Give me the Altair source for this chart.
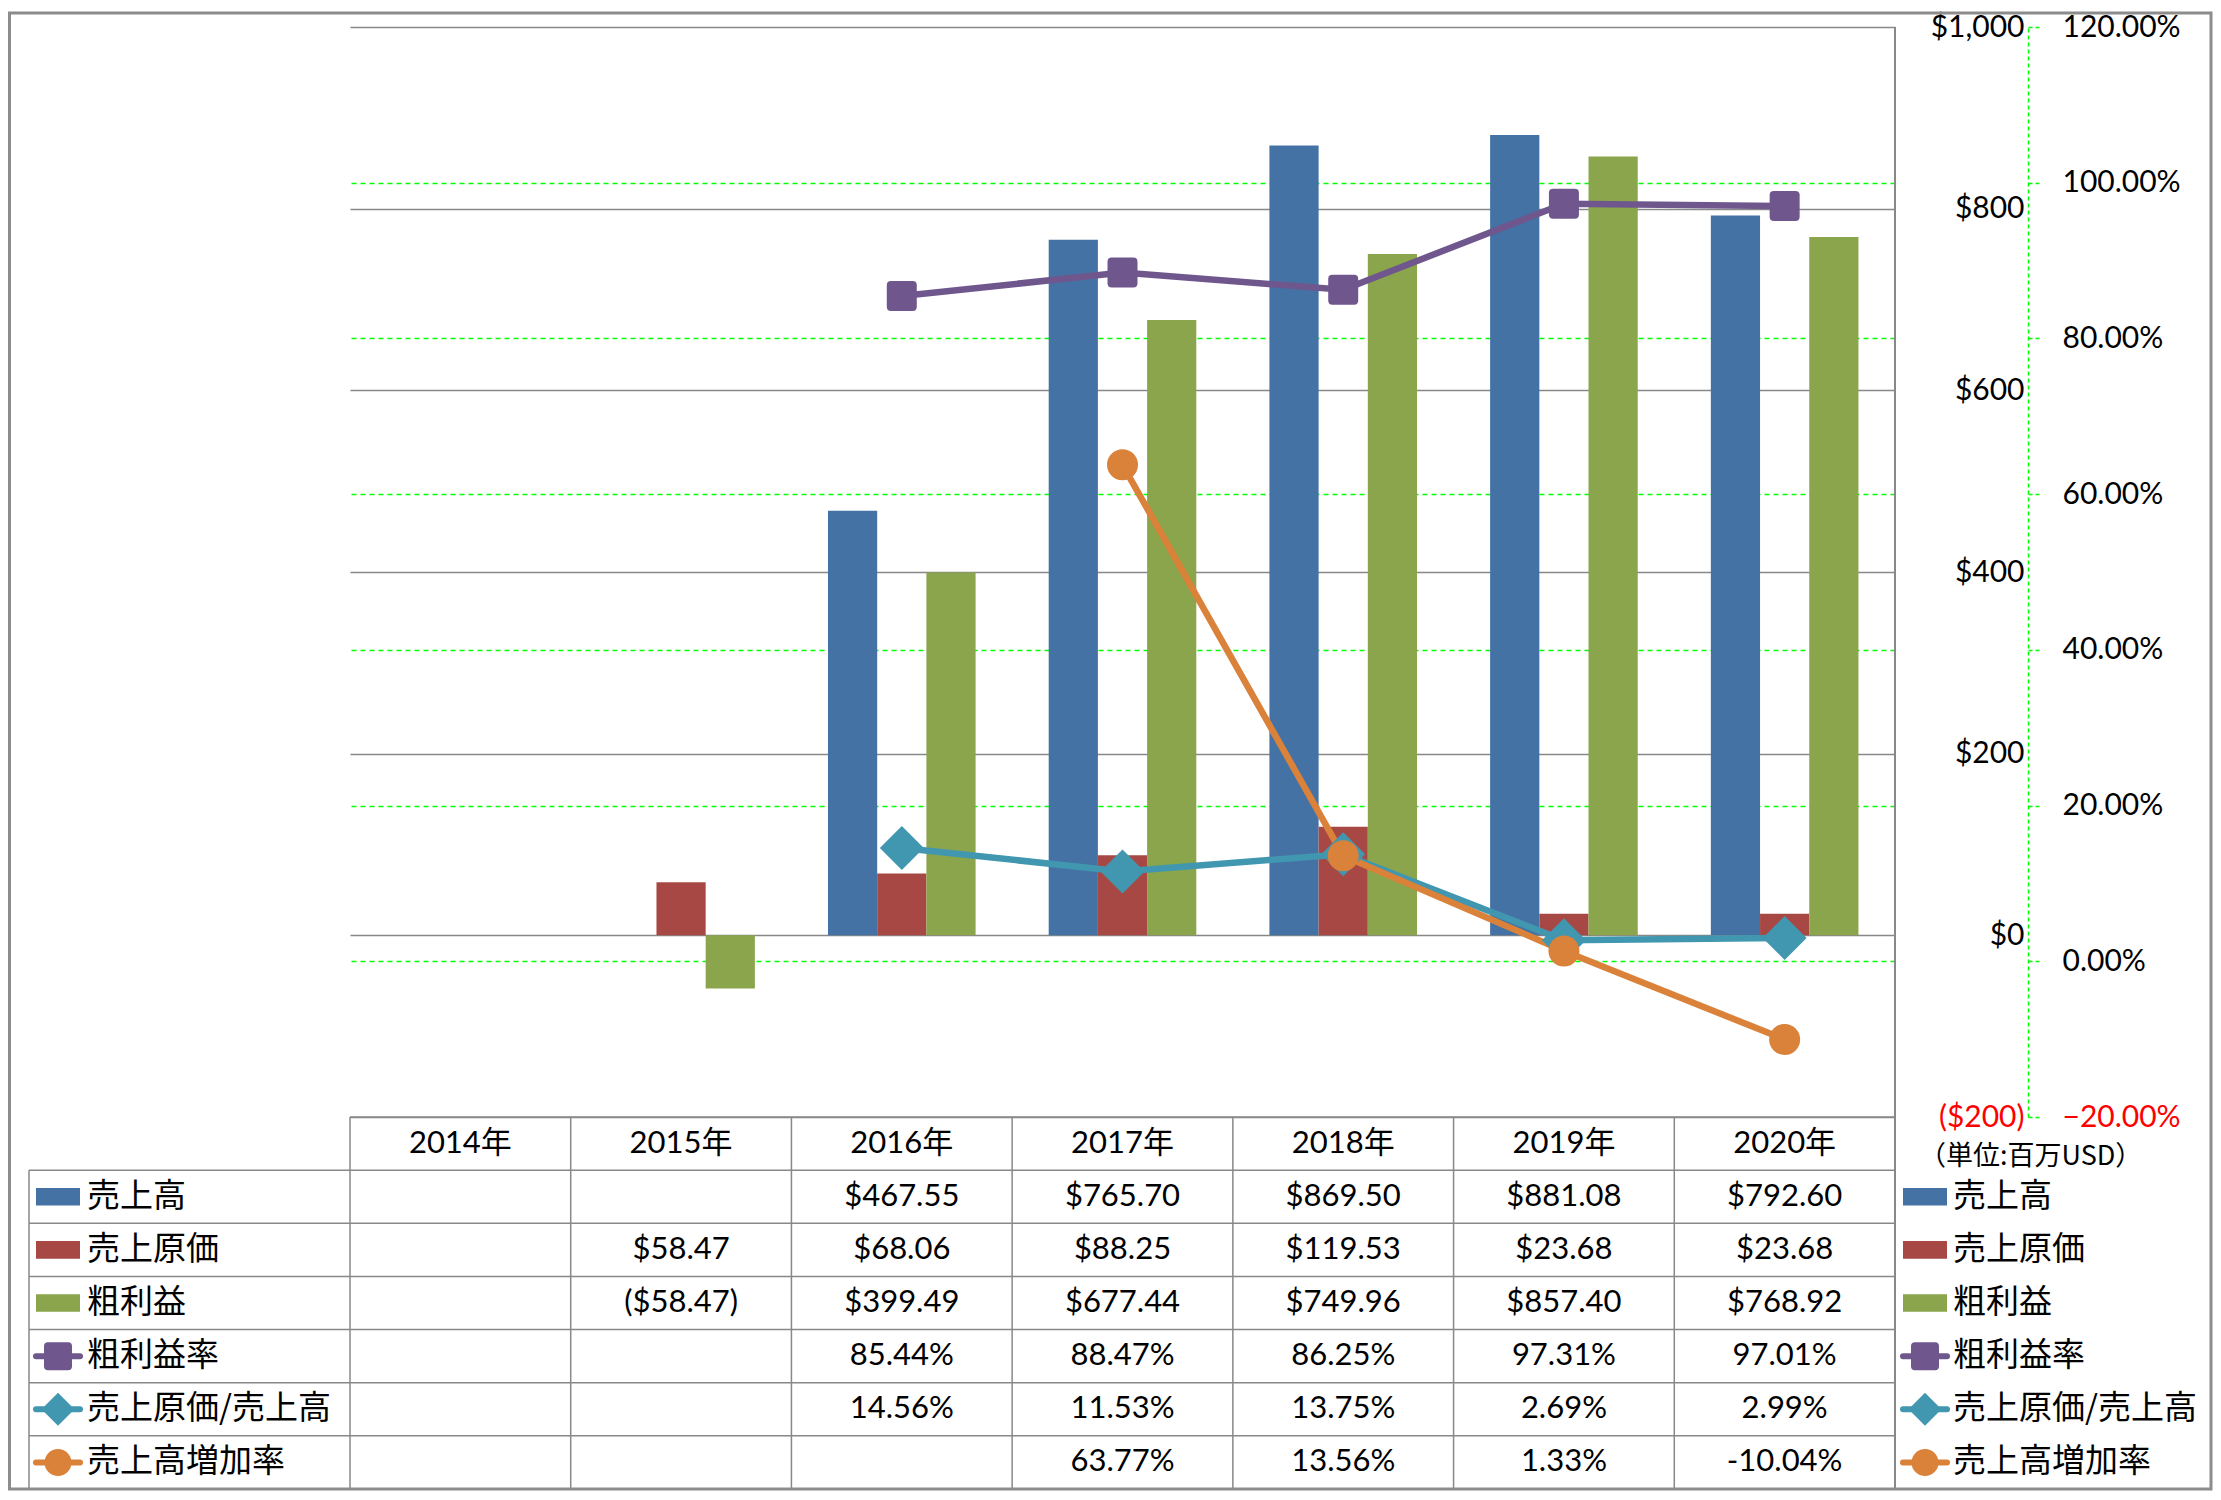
import altair as alt
import pandas as pd

# ---------------- data ----------------
years = ["2014年", "2015年", "2016年", "2017年", "2018年", "2019年", "2020年"]
sales = [None, None, 467.55, 765.70, 869.50, 881.08, 792.60]
cogs = [None, 58.47, 68.06, 88.25, 119.53, 23.68, 23.68]
gross = [None, -58.47, 399.49, 677.44, 749.96, 857.40, 768.92]
gpm = [None, None, 85.44, 88.47, 86.25, 97.31, 97.01]
cogs_ratio = [None, None, 14.56, 11.53, 13.75, 2.69, 2.99]
growth = [None, None, None, 63.77, 13.56, 1.33, -10.04]

bar_names = ["売上高", "売上原価", "粗利益"]
line_names = ["粗利益率", "売上原価/売上高", "売上高増加率"]
row_names = bar_names + line_names
money_ticks = [-200, 0, 200, 400, 600, 800, 1000]
pct_ticks = [-20, 0, 20, 40, 60, 80, 100, 120]
unit_label = "（単位:百万USD）"

# ---------------- styles ----------------
bar_colors = ["#4472A4", "#A84845", "#8AA54C"]
line_colors = {"粗利益率": "#6F578E", "売上原価/売上高": "#4197B0", "売上高増加率": "#DA813A"}
GRID = "#888888"
LIME = "#00FF00"
NUM_FONT = "Lato, 'Noto Sans CJK JP', sans-serif"
CJK_FONT = "'Noto Sans CJK JP', sans-serif"
SQ = "M-0.72,-1L0.72,-1Q1,-1,1,-0.72L1,0.72Q1,1,0.72,1L-0.72,1Q-1,1,-1,0.72L-1,-0.72Q-1,-1,-0.72,-1Z"
SWATCH = "M-1,-0.4L1,-0.4L1,0.4L-1,0.4Z"
line_shapes = {"粗利益率": (SQ, 900, 784), "売上原価/売上高": ("diamond", 1936, 1089),
               "売上高増加率": ("circle", 961, 729)}

W, H, HT = 1545, 1090, 372
LEFT_COL = 321

# ---------------- frames ----------------
bar_rows = []
for name, vals in zip(bar_names, [sales, cogs, gross]):
    for y, v in zip(years, vals):
        if v is not None:
            bar_rows.append({"year": y, "series": name, "value": v})
bar_df = pd.DataFrame(bar_rows)

pct_series = {"粗利益率": gpm, "売上原価/売上高": cogs_ratio, "売上高増加率": growth}

xscale = alt.Scale(domain=years, paddingInner=0, paddingOuter=0)

red_neg = {"condition": {"test": "datum.value < 0", "value": "#FF0000"}, "value": "#000000"}

money_axis = alt.Axis(
    orient="right", values=money_ticks, domain=False, ticks=False, tickSize=0,
    labelAlign="right", labelPadding=129, labelFont=NUM_FONT, labelFontSize=30,
    labelExpr="datum.value < 0 ? '($' + format(-datum.value, ',') + ')' : '$' + format(datum.value, ',')",
    labelColor=red_neg,
    grid=True, gridColor=GRID, gridWidth=1.5, title=None, labelOverlap=False,
)
pct_axis = alt.Axis(
    orient="right", offset=133, values=pct_ticks, domain=True, domainColor=LIME,
    domainDash=[4, 3], domainWidth=1.5, ticks=True, tickColor=LIME, tickSize=11,
    tickWidth=1.5, tickDash=[4, 3], labelPadding=23, labelFont=NUM_FONT, labelFontSize=30,
    labelExpr="format(datum.value, '.2f') + '%'",
    labelColor=red_neg,
    grid=True,
    gridColor={"condition": {"test": "datum.value >= 120 || datum.value <= -20", "value": "transparent"},
               "value": LIME},
    gridDash=[5, 4], gridWidth=1.5, title=None, labelOverlap=False,
)
pct_scale = alt.Scale(domain=[-20, 120], nice=False, zero=False)

bars = alt.Chart(bar_df).mark_bar().encode(
    x=alt.X("year:N", scale=xscale, axis=None),
    xOffset=alt.XOffset("series:N", scale=alt.Scale(domain=bar_names, paddingInner=0, paddingOuter=0.743)),
    y=alt.Y("value:Q", scale=alt.Scale(domain=[-200, 1000], nice=False, zero=False), axis=money_axis),
    color=alt.Color("series:N", scale=alt.Scale(domain=bar_names, range=bar_colors), legend=None),
)

line_layers = []
point_layers = []
for name in ["売上原価/売上高", "売上高増加率", "粗利益率"]:
    vals = pct_series[name]
    df = pd.DataFrame([{"year": y, "pct": v} for y, v in zip(years, vals) if v is not None])
    base = alt.Chart(df).encode(
        x=alt.X("year:N", scale=xscale, axis=None),
        y=alt.Y("pct:Q", scale=pct_scale, axis=pct_axis),
    )
    shape, size, _ = line_shapes[name]
    line_layers.append(base.mark_line(color=line_colors[name], strokeWidth=6.5, strokeCap="round"))
    point_layers.append(base.mark_point(filled=True, opacity=1, shape=shape, size=size,
                                        color=line_colors[name]))

lines = alt.layer(*line_layers, *point_layers)

border_df = pd.DataFrame({"k": [0]})
right_border = alt.Chart(border_df).mark_rule(color=GRID, strokeWidth=2).encode(
    x=alt.value(W), y=alt.value(0), y2=alt.value(H)
)

main = alt.layer(bars, lines, right_border).resolve_scale(y="independent").properties(width=W, height=H)

# ---------------- table ----------------
def money(v):
    return f"${v:,.2f}" if v >= 0 else f"(${-v:,.2f})"

def pct(v):
    return f"{v:.2f}%"

cells = []
for name, vals, fmt in [("売上高", sales, money), ("売上原価", cogs, money), ("粗利益", gross, money),
                        ("粗利益率", gpm, pct), ("売上原価/売上高", cogs_ratio, pct),
                        ("売上高増加率", growth, pct)]:
    for y, v in zip(years, vals):
        if v is not None:
            cells.append({"year": y, "row": name, "text": fmt(v)})
for y in years:
    cells.append({"year": y, "row": "header", "text": y})
cell_df = pd.DataFrame(cells)

rows_domain = ["header"] + row_names
yscale_t = alt.Scale(domain=rows_domain, paddingInner=0, paddingOuter=0)
Yrow = lambda **kw: alt.Y("row:N", scale=yscale_t, axis=None, **kw)

row_df = pd.DataFrame({"row": row_names})
year_df = pd.DataFrame({"year": years})

t_text = alt.Chart(cell_df).mark_text(font=NUM_FONT, fontSize=31, align="center", baseline="middle",
                                      color="#000000").encode(
    x=alt.X("year:N", scale=xscale, axis=None), y=Yrow(), text="text:N"
)
h_rules = alt.Chart(row_df).mark_rule(color=GRID, strokeWidth=1.5).encode(
    y=Yrow(bandPosition=0), x=alt.value(-LEFT_COL), x2=alt.value(W)
)
top_rule = alt.Chart(border_df).mark_rule(color=GRID, strokeWidth=1.5).encode(
    y=alt.value(0), x=alt.value(0), x2=alt.value(W)
)
bottom_rule = alt.Chart(border_df).mark_rule(color=GRID, strokeWidth=1.5).encode(
    y=alt.value(HT), x=alt.value(-LEFT_COL), x2=alt.value(W)
)
v_rules = alt.Chart(year_df).mark_rule(color=GRID, strokeWidth=1.5).encode(
    x=alt.X("year:N", scale=xscale, axis=None, bandPosition=0), y=alt.value(0), y2=alt.value(HT)
)
right_rule = alt.Chart(border_df).mark_rule(color=GRID, strokeWidth=2).encode(
    x=alt.value(W), y=alt.value(0), y2=alt.value(HT)
)
left_rule = alt.Chart(pd.DataFrame({"row": [row_names[0]]})).mark_rule(color=GRID, strokeWidth=1.5).encode(
    x=alt.value(-LEFT_COL), y=Yrow(bandPosition=0), y2=alt.value(HT)
)

legend_layers = []
for side_x, text_x in [(-LEFT_COL + 4, -263), (W + 5, W + 58)]:
    legend_layers.append(
        alt.Chart(row_df).mark_text(font=CJK_FONT, fontSize=33, align="left", baseline="middle",
                                    color="#000000").encode(
            x=alt.value(text_x), y=Yrow(), text="row:N")
    )
    for name, c in zip(bar_names, bar_colors):
        legend_layers.append(
            alt.Chart(pd.DataFrame({"row": [name]})).mark_point(
                filled=True, opacity=1, shape=SWATCH, size=1936, color=c).encode(
                x=alt.value(side_x + 25), y=Yrow())
        )
    for name in line_names:
        shape, _, lsize = line_shapes[name]
        d = pd.DataFrame({"row": [name]})
        legend_layers.append(
            alt.Chart(d).mark_rule(color=line_colors[name], strokeWidth=6, strokeCap="round").encode(
                x=alt.value(side_x + 3), x2=alt.value(side_x + 47), y=Yrow())
        )
        legend_layers.append(
            alt.Chart(d).mark_point(filled=True, opacity=1, shape=shape, size=lsize,
                                    color=line_colors[name]).encode(
                x=alt.value(side_x + 25), y=Yrow())
        )

unit = alt.Chart(pd.DataFrame({"t": [unit_label]})).mark_text(
    font=CJK_FONT, fontSize=27, align="left", baseline="middle", color="#000000").encode(
    x=alt.value(W + 24), y=alt.value(40), text="t:N"
)

frame = alt.Chart(border_df).mark_rect(fillOpacity=0, stroke="#8C8C8C", strokeWidth=3).encode(
    x=alt.value(-340.5), x2=alt.value(1861), y=alt.value(-(H + 14)), y2=alt.value(HT)
)

table = alt.layer(
    h_rules, top_rule, bottom_rule, v_rules, right_rule, left_rule, t_text, *legend_layers, unit, frame
).properties(width=W, height=HT)

chart = alt.vconcat(main, table, spacing=0, bounds="flush").properties(
    padding={"top": 3, "left": 0, "right": 0, "bottom": 0}, background="#FFFFFF"
).configure_view(strokeWidth=0)

chart.save("out.html", embed_options={"renderer": "svg", "actions": False})
